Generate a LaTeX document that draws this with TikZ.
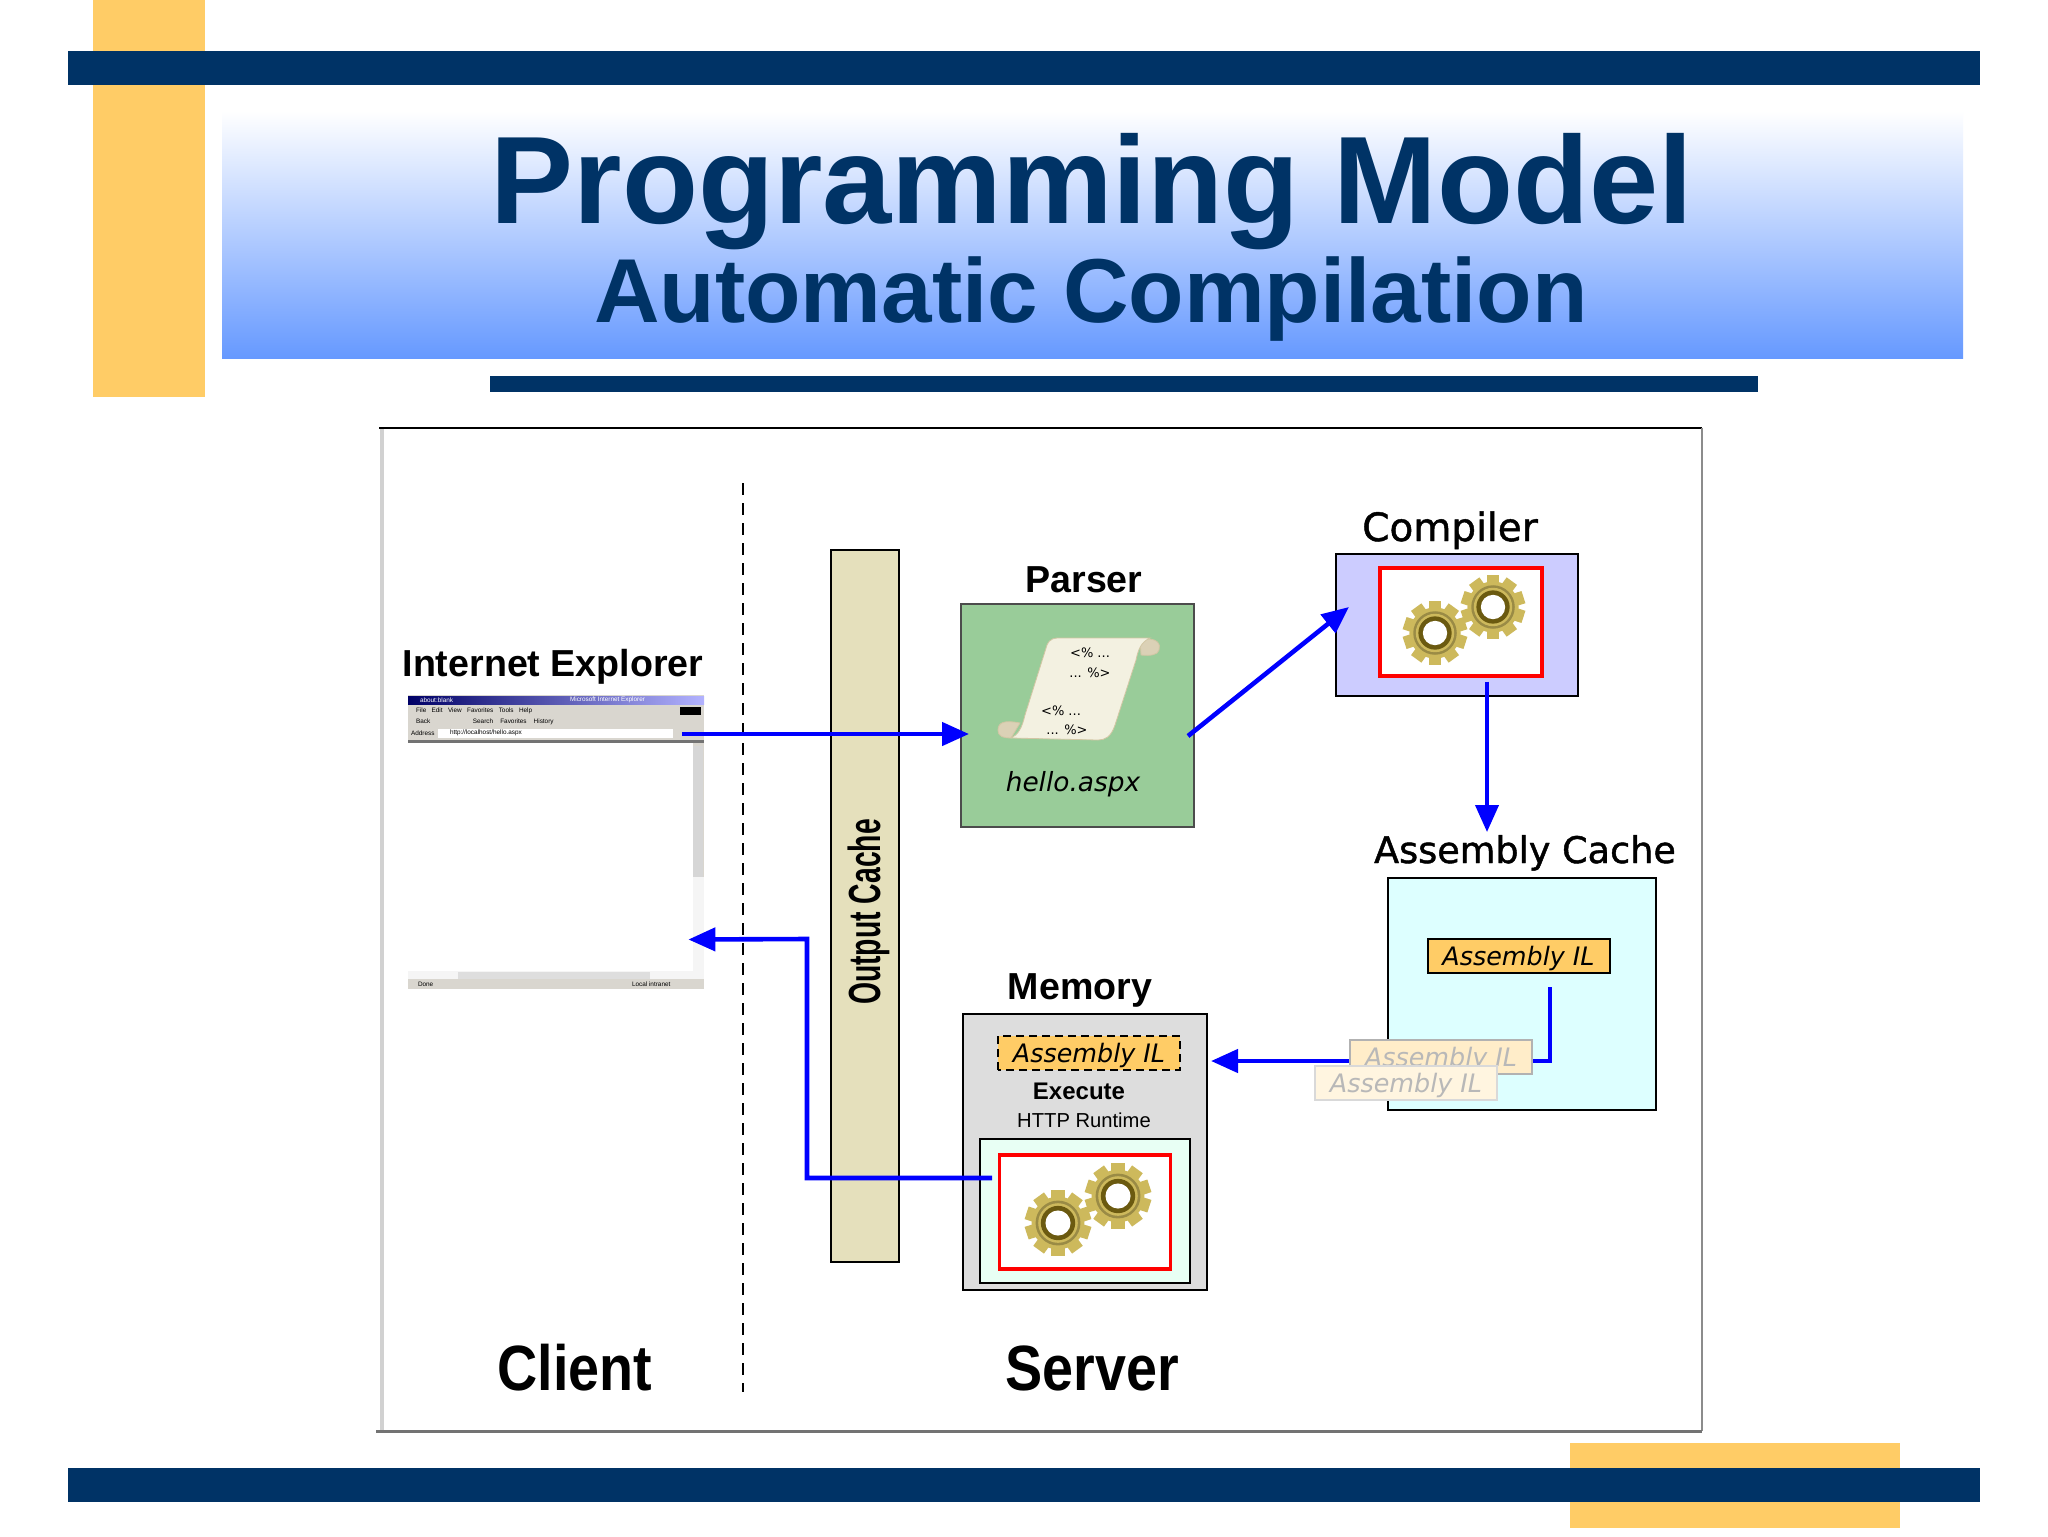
\documentclass[tikz,border=0pt]{standalone}
\usepackage{fontspec}
\setmainfont{Liberation Sans}
\newfontfamily\dejavu{DejaVu Sans}
\newfontfamily\dejavufat{DejaVu Sans}[FakeBold=1.2]
\usetikzlibrary{arrows.meta}

\definecolor{navy}{HTML}{003366}
\definecolor{slideorange}{HTML}{FFCC66}
\definecolor{flow}{HTML}{0000FF}
\definecolor{titleblue}{HTML}{6699FF}
\definecolor{cachefill}{HTML}{E5E0BC}
\definecolor{parserfill}{HTML}{99CC99}
\definecolor{compilerfill}{HTML}{CCCCFF}
\definecolor{asmfill}{HTML}{DDFFFF}
\definecolor{memfill}{HTML}{DDDDDD}
\definecolor{runfill}{HTML}{E8FFF4}
\definecolor{gearlight}{HTML}{CDB95C}
\definecolor{geardark}{HTML}{6B5A10}
\definecolor{winface}{HTML}{D9D6CF}
\definecolor{scrolledge}{HTML}{D2C6A4}

\newcommand{\fsz}[1]{\fontsize{#1}{#1}\selectfont}

% one gear, centre x, centre y, radius
\newcommand{\gear}[3]{
    \begin{scope}[shift={(#1,#2)}, scale=#3]
        \foreach \a in {0,36,...,324}
            \fill[gearlight, rotate=\a] (-.2,.7) rectangle (.2,1);
        \fill[gearlight] (0,0) circle (.8);
        \fill[gearlight!75!black] (0,0) circle (.68);
        \fill[gearlight] (0,0) circle (.6);
        \fill[geardark] (0,0) circle (.52);
        \fill[white] (0,0) circle (.38);
    \end{scope}
}

\begin{document}
\begin{tikzpicture}[>={Triangle[length=13.5pt,width=11.5pt]}, x=0.5pt, y=-0.5pt]
    \tikzstyle{box} = [draw=black, line width=1pt, rectangle, inner sep=0pt, outer sep=0pt]
    \tikzstyle{redbox} = [box, draw=red, line width=1.8pt, fill=white]
    \tikzstyle{ilbox} = [box, fill=slideorange, minimum width=91pt, minimum height=17pt, text height=11pt, text depth=1.4pt, font=\dejavu\itshape\fsz{12.7}]
    \tikzstyle{ghost} = [box, minimum width=91pt, minimum height=17pt, text height=11pt, text depth=1.4pt, font=\dejavu\itshape\fsz{12.7}, text=black!28]
    \tikzstyle{label} = [inner sep=0pt, outer sep=0pt, anchor=base, font=\bfseries\fsz{18.8}]
    \tikzstyle{dlabel} = [inner sep=0pt, outer sep=0pt, anchor=base, font=\dejavufat\fsz{19.5}]
    \tikzstyle{big} = [inner sep=0pt, outer sep=0pt, anchor=base, font=\bfseries\fsz{32}]
    \tikzstyle{wintext} = [inner sep=0pt, outer sep=0pt, anchor=west, font=\fsz{3.2}]
    \tikzstyle{flowline} = [color=flow, line width=2.3pt, ->]

    \useasboundingbox (0,0) rectangle (2048,1536);
    \fill[white] (0,0) rectangle (2048,1536);

    % slide
    \fill[slideorange] (93,0) rectangle (205,397);
    \fill[slideorange] (1570,1443) rectangle (1900,1528);
    \fill[navy] (68,51) rectangle (1980,85);
    \fill[navy] (68,1468) rectangle (1980,1502);
    \fill[navy] (490,376) rectangle (1758,392);
    \shade[top color=white, bottom color=titleblue] (222,111) rectangle (1963,358);
    \node[inner sep=0pt, anchor=base, text=navy, font=\bfseries\fsz{62.2}] (title) at (1092,223) {Programming Model};
    \node[inner sep=0pt, anchor=base, text=navy, font=\bfseries\fsz{45.4}] (subtitle) at (1091,322) {Automatic Compilation};

    % frame
    \fill[black!18] (380,427) rectangle (384,1431);
    \draw[black, line width=1pt] (379,428) -- (1702,428);
    \draw[black!45, line width=.75pt] (1702,428) -- (1702,1431);
    \draw[black!55, line width=1.5pt] (376,1431) -- (1702,1431);
    \draw[black, line width=.75pt, dash pattern=on 6pt off 4pt] (743,483) -- (743,1392);

    % browser
    \node[draw=none, fill=winface, inner sep=0pt, minimum width=148pt, minimum height=147pt] (browser) at (556,841.5) {};
    \fill[white] (408,743) rectangle (693,971);
    \shade[left color=blue!40!black, right color=blue!30!white] (408,696) rectangle (704,704);
    \fill[white] (438,729) rectangle (673,738);
    \fill[black!55] (408,740) rectangle (704,742.5);
    \fill[black!16] (693,746) rectangle (703,877);
    \fill[black!4] (693,877) rectangle (704,971);
    \fill[black!4] (408,971) rectangle (704,979);
    \fill[black!13] (458,972) rectangle (650,979);
    \fill[black] (680,707) rectangle (701,715);
    \node[wintext, text=white] (wintitle) at (420,700) {about:blank};
    \node[wintext, text=white] (winname) at (570,700) {Microsoft Internet Explorer};
    \node[wintext] (winmenu) at (416,711) {File \ \ Edit \ \ View \ \ Favorites \ \ Tools \ \ Help};
    \node[wintext] (wintools) at (416,722) {Back \ \ \ \ \ \ \ \ \ \ \ \ \ \ \ \ \ \ \ \ \ \ \ Search \ \ \ Favorites \ \ \ History};
    \node[wintext] (winaddr) at (411,733) {Address};
    \node[wintext] (winurl) at (450,733) {http://localhost/hello.aspx};
    \node[wintext] (winstatus) at (418,984) {Done};
    \node[wintext] (winzone) at (632,984) {Local intranet};
    \node[inner sep=0pt, outer sep=0pt, minimum width=137pt, minimum height=5pt] (addr) at (545,734) {};

    \node[label] (ielabel) at (553,676) {Internet Explorer};
    \node[big] (client) at (575,1390) {\scalebox{.87}[1]{Client}};
    \node[big] (server) at (1092,1390) {\scalebox{.87}[1]{Server}};

    % output cache
    \node[box, fill=cachefill, minimum width=34pt, minimum height=356pt] (cache) at (865,906) {};
    \node[inner sep=0pt, rotate=90, font=\bfseries\fsz{22.5}] (cachetext) at (869,912) {\scalebox{.63}[1]{Output Cache}};

    % parser
    \node[box, draw=black!70, fill=parserfill, minimum width=116.5pt, minimum height=111.5pt] (parser) at (1077.5,715.5) {};
    \node[label] (parserlabel) at (1084,592) {Parser};
    \filldraw[fill=scrolledge!80!white, draw=scrolledge] (1140,640) .. controls (1158,636) and (1161,645) .. (1159,650) .. controls (1158,655) and (1150,656) .. (1141,655) -- cycle;
    \filldraw[fill=scrolledge!80!white, draw=scrolledge] (1020,723) .. controls (1005,720) and (998,722) .. (998,730) .. controls (998,737) and (1004,738) .. (1011,738) -- cycle;
    \filldraw[fill=cachefill!45!white, draw=scrolledge] (1047,645) .. controls (1050,638) and (1055,638) .. (1060,638) -- (1150,638) .. controls (1141,642) and (1138,650) .. (1136,660) -- (1115,725) .. controls (1111,737) and (1105,740) .. (1098,740) -- (1011,738) .. controls (1018,735) and (1022,728) .. (1025,715) -- cycle;
    \node[inner sep=0pt, font=\dejavu\fsz{6.5}] (tag1) at (1090,653) {<\% ...};
    \node[inner sep=0pt, font=\dejavu\fsz{6.5}] (tag2) at (1090,673) {... \%>};
    \node[inner sep=0pt, font=\dejavu\fsz{6.5}] (tag3) at (1061,711) {<\% ...};
    \node[inner sep=0pt, font=\dejavu\fsz{6.5}] (tag4) at (1067,730) {... \%>};
    \node[inner sep=0pt, anchor=base, font=\dejavu\itshape\fsz{13.2}] (hello) at (1073,791) {hello.aspx};

    % compiler
    \node[box, fill=compilerfill, minimum width=121pt, minimum height=71pt] (compiler) at (1457,624.5) {};
    \node[redbox, minimum width=81pt, minimum height=54pt] (compred) at (1461,622) {};
    \gear{1435}{633}{32}
    \gear{1493}{607}{32}
    \node[dlabel] (compilerlabel) at (1450,541) {Compiler};

    % assembly cache
    \node[box, fill=asmfill, minimum width=134pt, minimum height=116pt] (asm) at (1522,994) {};
    \node[dlabel, font=\dejavufat\fsz{18.3}] (asmlabel) at (1525,863) {Assembly Cache};
    \node[ilbox] (il) at (1518.5,956) {Assembly IL};

    % memory
    \node[box, fill=memfill, minimum width=122pt, minimum height=138pt] (memory) at (1085,1152) {};
    \node[label] (memorylabel) at (1080,999) {Memory};
    \node[ilbox, draw=none] (memil) at (1089,1053) {Assembly IL};
    \draw[black, line width=1pt, dash pattern=on 4pt off 2.5pt] (memil.south west) rectangle (memil.north east);
    \node[inner sep=0pt, anchor=base, font=\bfseries\fsz{12}] (execute) at (1079,1099) {Execute};
    \node[inner sep=0pt, anchor=base, font=\fsz{10.1}] (runtime) at (1084,1127) {HTTP Runtime};
    \node[box, fill=runfill, minimum width=105pt, minimum height=72pt] (run) at (1085,1211) {};
    \node[redbox, minimum width=85.5pt, minimum height=57pt] (runred) at (1085,1212) {};
    \gear{1058}{1223}{33}
    \gear{1118}{1196}{33}

    % flows
    \coordinate (asmin) at (1487,832);
    \coordinate (memin) at (1211,1061);
    \coordinate (turn) at (807,939);
    \path[flowline]
      (addr.east) edge[shorten >=-4pt] (addr.east -| parser.west)
      ([shift={(-3pt,-10.25pt)}]parser.east) edge ([shift={(6.5pt,8.75pt)}]compiler.west)
      ([shift={(15pt,7pt)}]compiler.south) edge[line width=2pt] (asmin);
    \draw[flowline] ([shift={(15.75pt,-7pt)}]il.south) |- (memin);
    \draw[flowline] ([shift={(6pt,16.5pt)}]run.west) -| (turn) -- ([shift={(-8pt,-49pt)}]browser.east);

    % faded copies of the assembly, over the flow
    \node[ghost, draw=black!30, fill=slideorange!35!white] (ghost1) at (1441,1057) {Assembly IL};
    \node[ghost, draw=black!15, fill=slideorange!20!white] (ghost2) at (1406,1083) {Assembly IL};
\end{tikzpicture}
\end{document}
